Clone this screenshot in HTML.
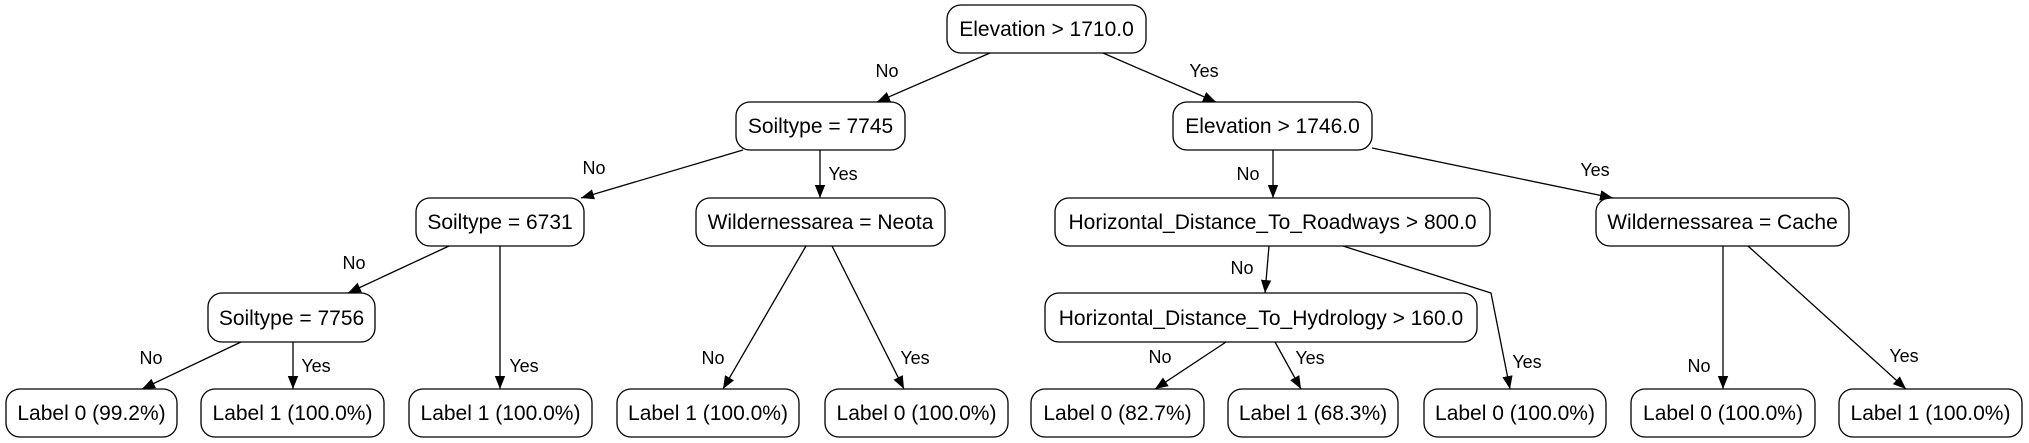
<!DOCTYPE html>
<html><head><meta charset="utf-8"><style>html,body{margin:0;padding:0;background:#fff}svg{display:block}</style></head><body>
<svg width="2029" height="443" viewBox="0 0 2029 443" xmlns="http://www.w3.org/2000/svg" font-family="Liberation Sans, sans-serif">
<defs><marker id="a" viewBox="0 0 10 10" refX="10" refY="5" markerWidth="13" markerHeight="13" markerUnits="userSpaceOnUse" orient="auto"><path d="M0,1 L10,5 L0,9 z" fill="#000"/></marker></defs>
<g fill="#fff" stroke="#000" stroke-width="1.3">
<rect x="947" y="5" width="199" height="48" rx="14"/>
<rect x="736" y="102" width="169" height="48" rx="14"/>
<rect x="1173" y="102" width="199" height="48" rx="14"/>
<rect x="416" y="198" width="168" height="48" rx="14"/>
<rect x="696" y="198" width="249" height="48" rx="14"/>
<rect x="1055" y="198" width="435" height="48" rx="14"/>
<rect x="1596" y="198" width="253" height="48" rx="14"/>
<rect x="208" y="293" width="167" height="49" rx="14"/>
<rect x="1045" y="293" width="432" height="49" rx="14"/>
<rect x="6" y="389" width="171" height="48" rx="14"/>
<rect x="201" y="389" width="183" height="48" rx="14"/>
<rect x="409" y="389" width="183" height="48" rx="14"/>
<rect x="617" y="389" width="182" height="48" rx="14"/>
<rect x="825" y="389" width="183" height="48" rx="14"/>
<rect x="1031" y="389" width="173" height="48" rx="14"/>
<rect x="1228" y="389" width="170" height="48" rx="14"/>
<rect x="1424" y="389" width="182" height="48" rx="14"/>
<rect x="1631" y="389" width="184" height="48" rx="14"/>
<rect x="1839" y="389" width="183" height="48" rx="14"/>
</g>
<g stroke="#000" stroke-width="1.3" fill="none" marker-end="url(#a)">
<line x1="990" y1="53" x2="877" y2="102"/>
<line x1="1103" y1="53" x2="1216" y2="102"/>
<line x1="743" y1="150" x2="581" y2="198"/>
<line x1="820" y1="150" x2="820" y2="198"/>
<line x1="449" y1="246" x2="348" y2="293"/>
<line x1="500" y1="246" x2="500" y2="389"/>
<line x1="241" y1="342" x2="142" y2="389"/>
<line x1="293" y1="342" x2="293" y2="389"/>
<line x1="806" y1="246" x2="723" y2="389"/>
<line x1="832" y1="246" x2="904" y2="389"/>
<line x1="1273" y1="150" x2="1273" y2="198"/>
<line x1="1372" y1="148" x2="1613" y2="198"/>
<line x1="1269" y1="246" x2="1265" y2="293"/>
<polyline points="1343,246 1491,293 1510,389"/>
<line x1="1226" y1="342" x2="1155" y2="389"/>
<line x1="1275" y1="342" x2="1301" y2="389"/>
<line x1="1723" y1="246" x2="1723" y2="389"/>
<line x1="1748" y1="246" x2="1906" y2="389"/>
</g>
<g font-size="21" text-anchor="middle" fill="#000">
<text x="1046.5" y="36">Elevation &gt; 1710.0</text>
<text x="820.5" y="133">Soiltype = 7745</text>
<text x="1272.5" y="133">Elevation &gt; 1746.0</text>
<text x="500" y="229">Soiltype = 6731</text>
<text x="820.5" y="229">Wildernessarea = Neota</text>
<text x="1272.5" y="229">Horizontal_Distance_To_Roadways &gt; 800.0</text>
<text x="1722.5" y="229">Wildernessarea = Cache</text>
<text x="291.5" y="325">Soiltype = 7756</text>
<text x="1261" y="325">Horizontal_Distance_To_Hydrology &gt; 160.0</text>
<text x="91.5" y="420">Label 0 (99.2%)</text>
<text x="292.5" y="420">Label 1 (100.0%)</text>
<text x="500.5" y="420">Label 1 (100.0%)</text>
<text x="708" y="420">Label 1 (100.0%)</text>
<text x="916.5" y="420">Label 0 (100.0%)</text>
<text x="1117.5" y="420">Label 0 (82.7%)</text>
<text x="1313" y="420">Label 1 (68.3%)</text>
<text x="1515" y="420">Label 0 (100.0%)</text>
<text x="1723" y="420">Label 0 (100.0%)</text>
<text x="1930.5" y="420">Label 1 (100.0%)</text>
</g>
<g font-size="18" text-anchor="middle" fill="#000">
<text x="887" y="77">No</text>
<text x="1204" y="77">Yes</text>
<text x="594" y="174">No</text>
<text x="843" y="180">Yes</text>
<text x="354" y="269">No</text>
<text x="524" y="372">Yes</text>
<text x="151" y="364">No</text>
<text x="316" y="372">Yes</text>
<text x="713" y="364">No</text>
<text x="915" y="364">Yes</text>
<text x="1248" y="180">No</text>
<text x="1595" y="176">Yes</text>
<text x="1242" y="274">No</text>
<text x="1527" y="368">Yes</text>
<text x="1160" y="363">No</text>
<text x="1310" y="364">Yes</text>
<text x="1699" y="372">No</text>
<text x="1904" y="362">Yes</text>
</g>
</svg>
</body></html>
